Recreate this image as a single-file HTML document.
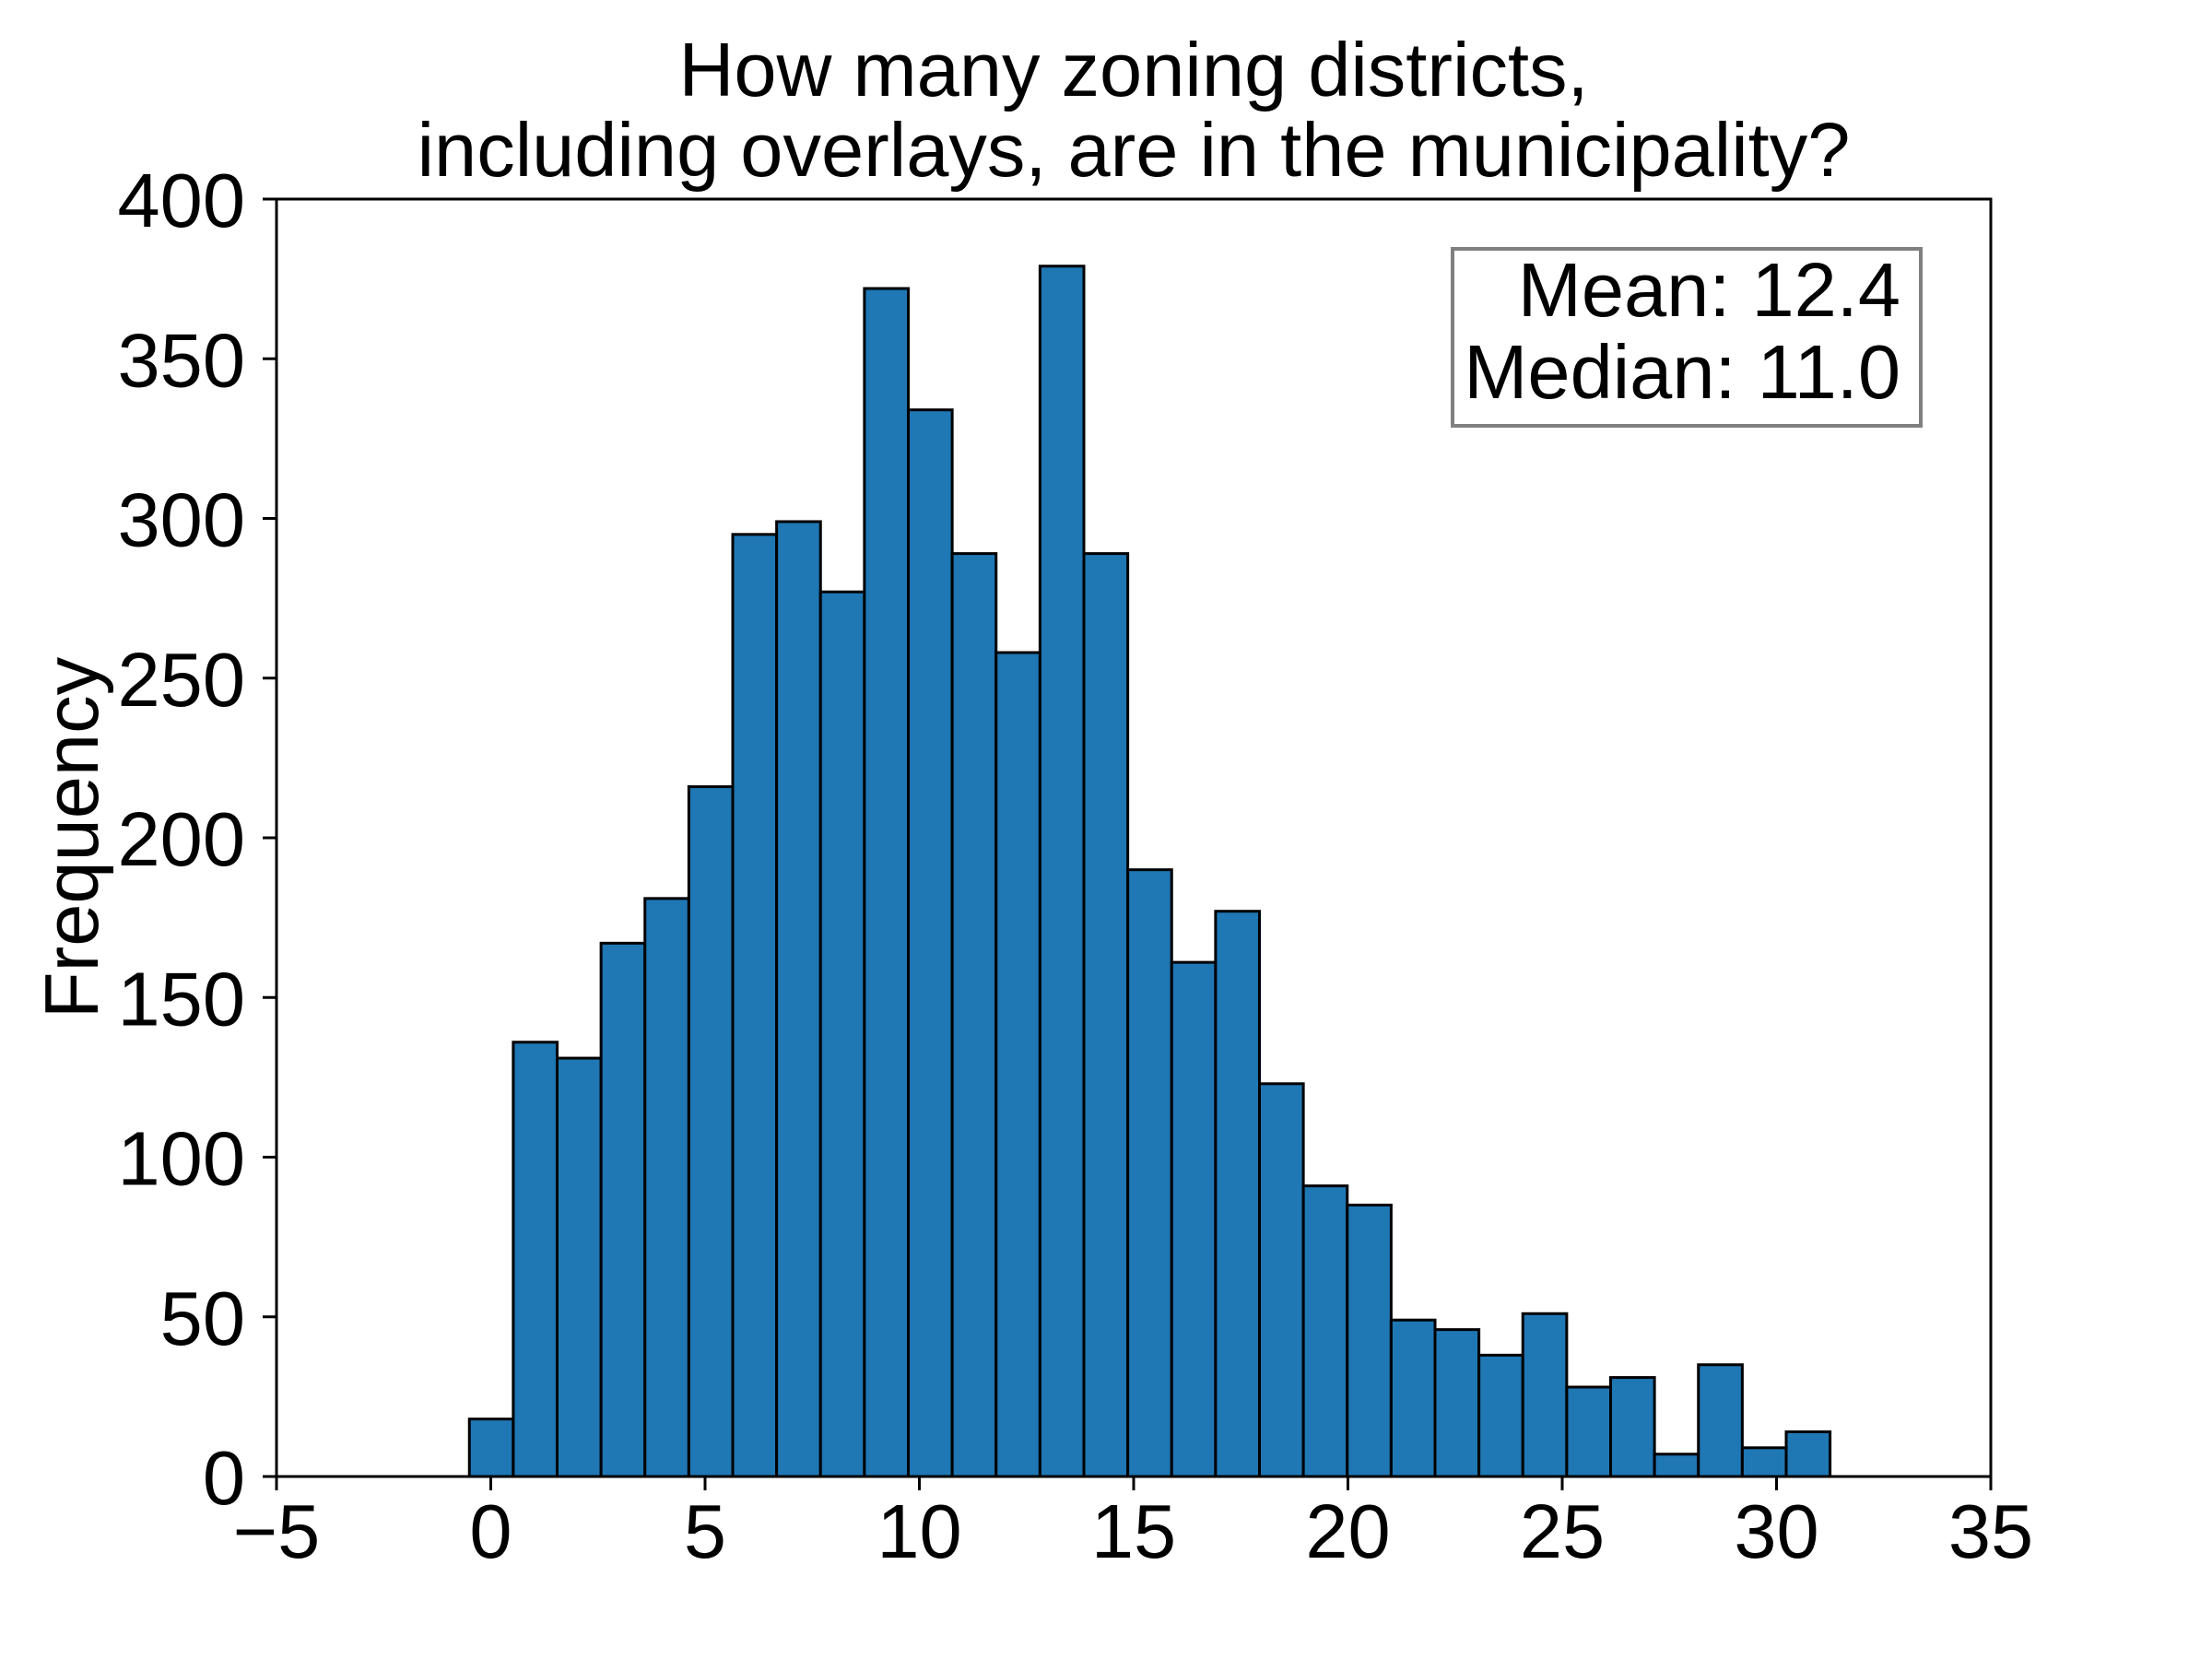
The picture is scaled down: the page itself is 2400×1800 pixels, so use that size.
<!DOCTYPE html>
<html><head><meta charset="utf-8"><style>
html,body{margin:0;padding:0;background:#fff;}
svg{display:block;font-family:"Liberation Sans",Arial,sans-serif;}
</style></head><body>
<svg id="chart" width="2400" height="1800" viewBox="0 0 2400 1800" xmlns="http://www.w3.org/2000/svg">
<rect width="2400" height="1800" fill="#fff"/>
<text x="1230" y="104" font-size="83" text-anchor="middle">How many zoning districts,</text>
<text x="1230" y="191" font-size="83" text-anchor="middle">including overlays, are in the municipality?</text>
<text transform="translate(106,909) rotate(-90)" font-size="83" text-anchor="middle">Frequency</text>
<g id="bars"></g>
<g id="axes"></g>
<g>
<rect x="1576" y="270" width="508" height="192" fill="#fff" stroke="#808080" stroke-width="4"/>
<text x="2062" y="343" font-size="83" text-anchor="end">Mean: 12.4</text>
<text x="2062" y="432" font-size="83" text-anchor="end">Median: 11.0</text>
</g>
</svg>
<script>
const counts = [18,136,131,167,181,216,295,299,277,372,334,289,258,379,289,190,161,177,123,91,85,49,46,38,51,28,31,7,35,9,14];
const binStart = -0.5;
const binEnd = 31.25;
const xTicks = [-5,0,5,10,15,20,25,30,35];
const yTicks = [0,50,100,150,200,250,300,350,400];

const L=300,R=2160,T=216,B=1602;
const xMin=-5,xMax=35,yMin=0,yMax=400;
const xs=v=>L+(v-xMin)/(xMax-xMin)*(R-L);
const ys=v=>B-(v-yMin)/(yMax-yMin)*(B-T);
const NS="http://www.w3.org/2000/svg";
const bars=document.getElementById('bars');
const axes=document.getElementById('axes');
const bw=(binEnd-binStart)/counts.length;
counts.forEach((c,i)=>{
  const r=document.createElementNS(NS,'rect');
  const x0=xs(binStart+i*bw), x1=xs(binStart+(i+1)*bw);
  r.setAttribute('x',x0);r.setAttribute('y',ys(c));
  r.setAttribute('width',x1-x0);r.setAttribute('height',ys(0)-ys(c));
  r.setAttribute('fill','#1f77b4');r.setAttribute('stroke','#000');r.setAttribute('stroke-width','3');
  
  
  bars.appendChild(r);
});
const frame=document.createElementNS(NS,'rect');
frame.setAttribute('x',L);frame.setAttribute('y',T);frame.setAttribute('width',R-L);frame.setAttribute('height',B-T);
frame.setAttribute('fill','none');frame.setAttribute('stroke','#000');frame.setAttribute('stroke-width','3');


axes.appendChild(frame);
xTicks.forEach(t=>{
  const l=document.createElementNS(NS,'line');
  l.setAttribute('x1',xs(t));l.setAttribute('x2',xs(t));l.setAttribute('y1',B);l.setAttribute('y2',B+15);
  l.setAttribute('stroke','#000');l.setAttribute('stroke-width','3');
  
  
  axes.appendChild(l);
  const tx=document.createElementNS(NS,'text');
  tx.setAttribute('x',xs(t));tx.setAttribute('y',1690);tx.setAttribute('font-size','83');tx.setAttribute('text-anchor','middle');
  tx.textContent=t<0?'\u2212'+Math.abs(t):String(t);
  
  
  axes.appendChild(tx);
});
yTicks.forEach(t=>{
  const l=document.createElementNS(NS,'line');
  l.setAttribute('x1',L-15);l.setAttribute('x2',L);l.setAttribute('y1',ys(t));l.setAttribute('y2',ys(t));
  l.setAttribute('stroke','#000');l.setAttribute('stroke-width','3');
  
  
  axes.appendChild(l);
  const tx=document.createElementNS(NS,'text');
  tx.setAttribute('x',266);tx.setAttribute('y',ys(t)+30);tx.setAttribute('font-size','83');tx.setAttribute('text-anchor','end');
  tx.textContent=String(t);
  
  
  axes.appendChild(tx);
});
</script>
</body></html>
